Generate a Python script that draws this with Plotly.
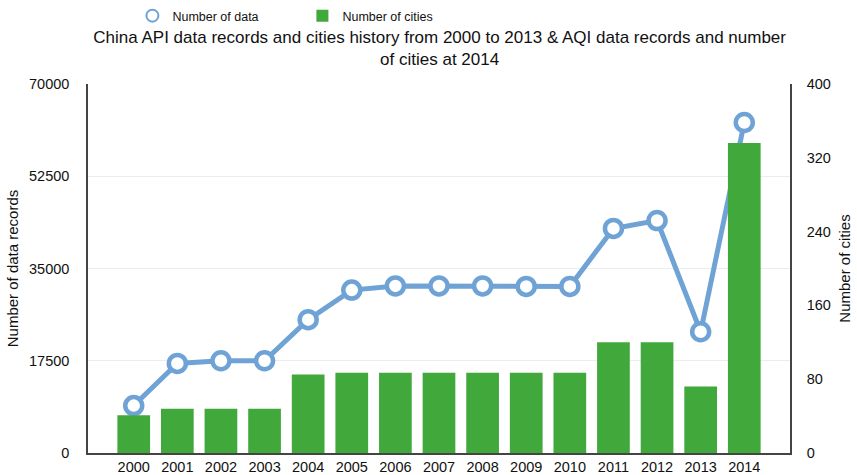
import plotly.graph_objects as go

years = ["2000", "2001", "2002", "2003", "2004", "2005", "2006", "2007",
         "2008", "2009", "2010", "2011", "2012", "2013", "2014"]
data_records = [9000, 17000, 17500, 17500, 25300, 30900, 31700, 31700,
                31700, 31600, 31600, 42600, 44100, 23000, 62700]
num_cities = [41, 48, 48, 48, 85, 87, 87, 87, 87, 87, 87, 120, 120, 72, 336]

left_ticks = [0, 17500, 35000, 52500, 70000]
right_ticks = [0, 80, 160, 240, 320, 400]

FONT = "Liberation Sans, Arial, Helvetica, sans-serif"
BLUE = "#6fa3d6"
GREEN = "#41a83c"

fig = go.Figure()
fig.add_trace(go.Bar(
    x=years, y=num_cities, name="Number of cities", yaxis="y2",
    marker=dict(color=GREEN, line=dict(width=0)), legendrank=2,
))
fig.add_trace(go.Scatter(
    x=years, y=data_records, mode="lines", showlegend=False,
    line=dict(color=BLUE, width=5), hoverinfo="skip",
))
fig.add_trace(go.Scatter(
    x=years, y=data_records, mode="markers", name="Number of data",
    marker=dict(symbol="circle", size=17, color="white",
                line=dict(color=BLUE, width=4.5)), legendrank=1,
))

fig.update_layout(
    width=857, height=475,
    margin=dict(l=88, r=67, t=84, b=22, autoexpand=False),
    paper_bgcolor="white", plot_bgcolor="white",
    font=dict(family=FONT, size=14, color="#111"),
    bargap=0.25,
    title=dict(
        text="China API data records and cities history from 2000 to 2013 &amp; AQI data records and number<br>of cities at 2014",
        x=0.513, xanchor="center", xref="container",
        y=1 - 43 / 475, yanchor="middle", yref="container",
        font=dict(family=FONT, size=17, color="#111"),
    ),
    legend=dict(
        orientation="h", xref="container", yref="container",
        x=0.1545, xanchor="left", y=1 - 16 / 475, yanchor="middle",
        entrywidth=125, entrywidthmode="pixels",
        font=dict(family=FONT, size=12.5, color="#111"),
        traceorder="normal", itemsizing="constant",
    ),
    xaxis=dict(
        type="category", showgrid=False, showline=True, linecolor="#444",
        linewidth=1.5, ticks="", tickfont=dict(size=14.5), automargin=False,
    ),
    yaxis=dict(
        range=[0, 70000], tickvals=left_ticks, tickformat="d",
        showgrid=True, gridcolor="#ececec", gridwidth=1,
        showline=True, linecolor="#444", linewidth=1.5,
        zeroline=False, ticks="", ticklabelstandoff=14, automargin=False,
        tickfont=dict(size=14.5),
        title=dict(text="Number of data records", font=dict(size=15), standoff=7),
    ),
    yaxis2=dict(
        range=[0, 400], tickvals=right_ticks, overlaying="y", side="right",
        showgrid=False, showline=True, linecolor="#444", linewidth=1.5,
        zeroline=False, ticks="", ticklabelstandoff=12, automargin=False,
        tickfont=dict(size=14.5),
        title=dict(text="Number of cities", font=dict(size=15), standoff=10),
    ),
)

fig.write_html("out.html", config={"displayModeBar": False},
               post_script="document.body.style.margin='0';")
